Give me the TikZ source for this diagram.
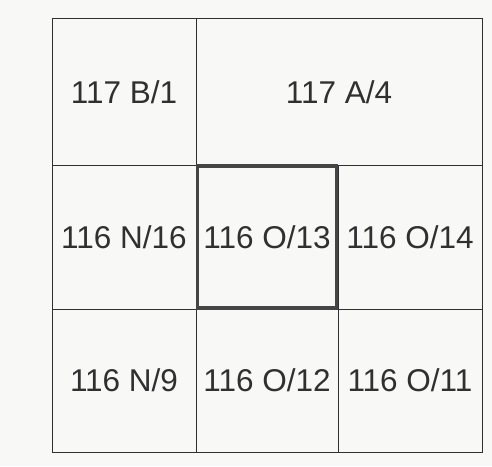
\documentclass[tikz,border=0pt]{standalone}
\usepackage{fontspec}
\setmainfont{Liberation Sans}
\definecolor{ink}{HTML}{303030}
\definecolor{paper}{HTML}{F8F8F6}
\begin{document}
\begin{tikzpicture}[x=1pt,y=-1pt,
  cell/.style={draw=ink,line width=1pt,inner sep=0pt,rectangle,text=ink,
    font=\fontsize{31.5}{31.5}\selectfont},
  hilite/.style={draw=ink!90,line width=3.5pt,inner sep=0pt,rectangle}]
\fill[paper] (0,0) rectangle (492,466);
\useasboundingbox (0,0) rectangle (492,466);
% row 1
\node[cell,minimum width=144pt,minimum height=146.5pt] (b1) at (124,91.75) {117 B/1};
\node[cell,minimum width=286pt,minimum height=146.5pt] (a4) at (339,91.75) {117 A/4};
% row 2
\node[cell,minimum width=144pt,minimum height=144pt] (n16) at (124,237) {116 N/16};
\node[cell,minimum width=142pt,minimum height=144pt] (o13) at (267,237) {116 O/13};
\node[cell,minimum width=144pt,minimum height=144pt] (o14) at (410,237) {116 O/14};
% row 3
\node[cell,minimum width=144pt,minimum height=143pt] (n9) at (124,380.5) {116 N/9};
\node[cell,minimum width=142pt,minimum height=143pt] (o12) at (267,380.5) {116 O/12};
\node[cell,minimum width=144pt,minimum height=143pt] (o11) at (410,380.5) {116 O/11};
% highlighted sheet
\node[hilite,minimum width=139pt,minimum height=142pt] (hl) at (267,237) {};
\end{tikzpicture}
\end{document}
